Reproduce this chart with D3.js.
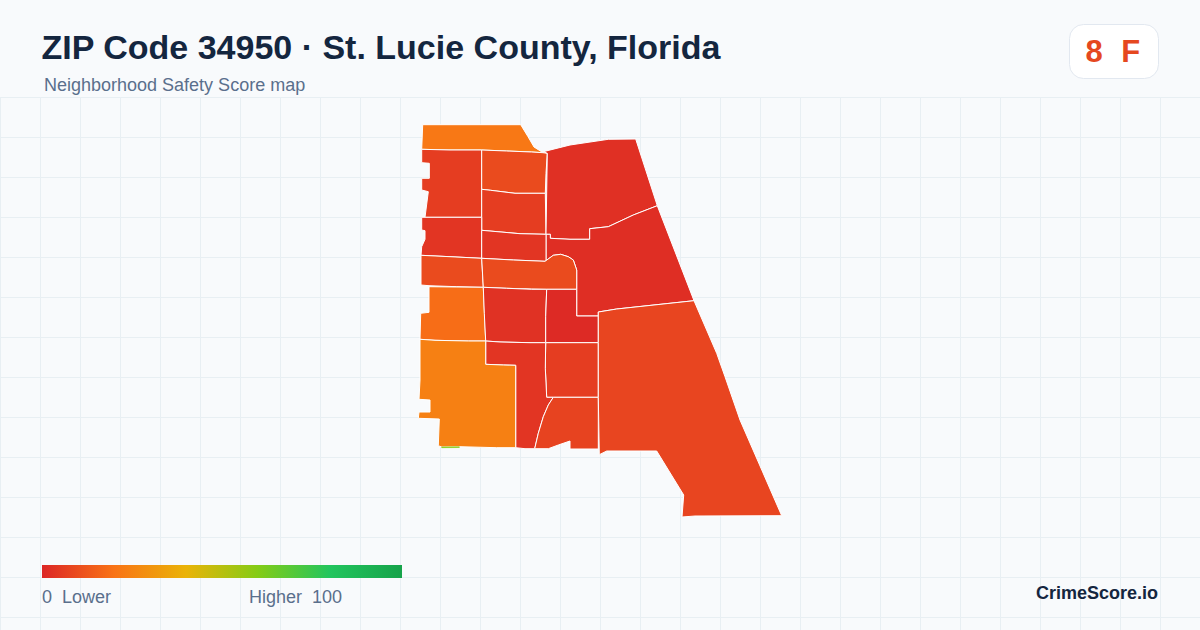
<!DOCTYPE html>
<html>
<head>
<meta charset="utf-8">
<title>ZIP Code 34950</title>
<script src="https://cdn.jsdelivr.net/npm/d3@7"></script>
<style>
	html, body { margin: 0; padding: 0; background: #f8fafc; }
	svg { display: block; }
	text { font-family: "Liberation Sans", Arial, sans-serif; white-space: pre; }
</style>
</head>
<body>
<svg id="myGraph" width="1200" height="630"></svg>
<script>
// map units, x grows east, y grows north
var tractNames = ["north", "west1", "center1", "center2", "northeast", "east", "west2", "center3", "band", "bandMid",
	"west3", "center4", "core", "center5", "lshape", "south", "westBig", "southeast", "sliver"];
var tractScores = [21.5, 6, 9.5, 6, 2.5, 2, 4, 4, 9.5, 9.5, 18.5, 3, 1, 6, 4, 7.5, 24, 8, 60];
var tractOutlines = [
	[[4.7,392.3],[102.7,392.3],[110,380.3],[116,370],[125,364.3],[113.7,365],[88.7,366],[63.7,367],[32,367],[3.7,367.7]],
	[[3.7,367.7],[32,367],[63.7,367],[63.7,327],[63.7,299.7],[7,299.7],[10.3,325.3],[3.7,327],[3.7,338.7],[11.3,338.7],[11.3,353.7],[3.7,354.3]],
	[[63.7,367],[88.7,366],[113.7,365],[125,364.3],[129.3,363.7],[128,343.7],[127.3,323.7],[97,323.7],[72.7,326.7],[63.7,327.7]],
	[[63.7,327.7],[72.7,326.7],[97,323.7],[127.3,323.7],[128,282.7],[102,283.3],[63.7,286.7]],
	[[125.3,365.3],[152,372],[190.3,377.7],[217.7,378],[239.3,311.3],[215.3,302],[190.3,290.3],[171.7,288.3],[171.7,277.7],[152,277.7],[132.3,278.7],[132.3,282.7],[128,282.7],[129.3,363.7]],
	[[239.3,311.3],[276,216.3],[198.7,208],[180.3,205],[180.3,201],[158.7,201],[158.7,227.7],[158.7,247],[155.3,257],[150.3,260.3],[142.7,262.7],[135.3,261.7],[128,256.3],[128,282.7],[132.3,282.7],[132.3,278.7],[152,277.7],[171.7,277.7],[171.7,288.3],[190.3,290.3],[215.3,302]],
	[[7,299.7],[63.7,299.7],[63.7,286.7],[63.7,258.7],[32,260.3],[3,261.7],[3.7,270.3],[7,277.7],[7,286.3],[3.7,287],[3.7,299.7]],
	[[63.7,286.7],[102,283.3],[128,282.7],[128,256.3],[127,255.7],[95.3,257],[63.7,258.7]],
	[[3,261.7],[32,260.3],[63.7,258.7],[65.3,229.7],[38.7,230.3],[11,231.3],[3,232]],
	[[63.7,258.7],[95.3,257],[127,255.7],[135.3,261.7],[142.7,262.7],[150.3,260.3],[155.3,257],[158.7,247],[158.7,227.7],[128.7,227.7],[113.7,228],[88.7,228.7],[65.3,229.7]],
	[[11,230.3],[65.3,229.7],[67.7,176],[50.3,176],[17,176.7],[2,177.7],[2.7,203.7],[11,204.7]],
	[[65.3,229.7],[88.7,228.7],[113.7,227.7],[128.7,227.7],[127.7,200.3],[127.7,174.3],[112,174.3],[82,175],[67.7,176],[66.3,203.7]],
	[[128.7,227.7],[158.7,227.7],[158.7,201],[180.3,201],[180.3,174.3],[127.7,174.3],[127.7,200.3]],
	[[127.7,174.3],[180.3,174.3],[180.3,119.7],[135.3,119.7],[128.7,119.7],[127.3,148.7]],
	[[67.7,176],[82,175],[112,174.3],[127.7,174.3],[127.3,148.7],[128.7,119.7],[135.3,119.7],[130.3,112],[125.3,100.3],[120.3,83.7],[116.7,68.3],[107,68.3],[97.7,69.3],[97.7,151.7],[85.3,152],[67.7,152.7]],
	[[135.3,119.7],[180.3,119.7],[180.3,68],[152,68],[152,76],[140.3,72],[130.3,68.3],[116.7,68.3],[120.3,83.7],[125.3,100.3],[130.3,112]],
	[[2,177.7],[17,176.7],[50.3,176],[67.7,176],[67.7,152.7],[85.3,152],[97.7,151.7],[97.7,69.3],[78.7,69.3],[42,70.3],[23.7,70],[20.3,71.3],[21.3,98],[0.3,98.7],[1,105],[12,105],[12,117],[1,117.7],[2,137]],
	[[276,216.3],[298.7,163.7],[307,140.3],[322,97],[363.7,1.3],[277,1],[264,0],[265.7,22],[238.7,66],[188.7,66],[181.3,62.3],[180.3,119.7],[180.3,174.3],[180.3,201],[180.3,205],[198.7,208]],
	[[23.7,70],[41.3,70.2],[41.3,69.5],[23.7,69.3]]
];
var scoreStops = [0, 20, 40, 60, 80, 100];
var scoreColors = ["#dc2626", "#f97316", "#eab308", "#84cc16", "#22c55e", "#16a34a"];
var legendLabels = ["0  Lower", "Higher  100"];
var titleText = "ZIP Code 34950 · St. Lucie County, Florida";
var subtitleText = "Neighborhood Safety Score map";
var badgeScore = "8";
var badgeGrade = "F";
var brandText = "CrimeScore.io";

window.addEventListener("load", function(){

	var svg = d3.select("#myGraph");

	svg.append("rect")
	.attr("width", 1200)
	.attr("height", 630)
	.attr("fill", "#f8fafc");

	// grid
	var grid = svg.append("g").attr("class", "grid").attr("stroke", "#e8eff3");
	grid.selectAll("line.v")
	.data(d3.range(0, 1200, 40))
	.enter()
	.append("line")
	.attr("class", "v")
	.attr("x1", function(d){ return d + 0.5; })
	.attr("x2", function(d){ return d + 0.5; })
	.attr("y1", 97)
	.attr("y2", 630);
	grid.selectAll("line.h")
	.data(d3.range(97, 630, 40))
	.enter()
	.append("line")
	.attr("class", "h")
	.attr("x1", 0)
	.attr("x2", 1200)
	.attr("y1", function(d){ return d + 0.5; })
	.attr("y2", function(d){ return d + 0.5; });

	// map
	var xScale = d3.scaleLinear().domain([0, 364]).range([418, 782]);
	var yScale = d3.scaleLinear().domain([0, 394]).range([517, 123]);
	var color = d3.scaleLinear().domain(scoreStops).range(scoreColors);
	var line = d3.line()
		.x(function(d){ return xScale(d[0]); })
		.y(function(d){ return yScale(d[1]); });

	svg.append("g")
	.attr("class", "tracts")
	.selectAll("path")
	.data(tractOutlines)
	.enter()
	.append("path")
	.attr("id", function(d, i){ return "tract-" + tractNames[i]; })
	.attr("d", function(d){ return line(d) + "Z"; })
	.attr("fill", function(d, i){ return color(tractScores[i]); })
	.attr("stroke", function(d, i){ return tractScores[i] > 50 ? color(tractScores[i]) : "#ffffff"; })
	.attr("stroke-width", function(d, i){ return tractScores[i] > 50 ? 0.6 : 1; })
	.attr("stroke-linejoin", "round");

	// header
	svg.append("text")
	.attr("x", 41.5)
	.attr("y", 59)
	.attr("font-size", 34)
	.attr("font-weight", "bold")
	.attr("fill", "#14263f")
	.text(titleText);

	svg.append("text")
	.attr("x", 44)
	.attr("y", 91)
	.attr("font-size", 18)
	.attr("fill", "#5a6f8c")
	.text(subtitleText);

	// badge
	svg.append("rect")
	.attr("x", 1069.5)
	.attr("y", 24.5)
	.attr("width", 89)
	.attr("height", 54)
	.attr("rx", 14)
	.attr("fill", "#ffffff")
	.attr("stroke", "#e2e8f0");

	svg.selectAll("text.badge")
	.data([badgeScore, badgeGrade])
	.enter()
	.append("text")
	.attr("class", "badge")
	.attr("x", function(d, i){ return i == 0 ? 1085.5 : 1121.3; })
	.attr("y", 62)
	.attr("font-size", 31)
	.attr("font-weight", "bold")
	.attr("fill", "#e5481f")
	.text(function(d){ return d; });

	// legend
	var gradient = svg.append("defs")
	.append("linearGradient")
	.attr("id", "legendGradient");
	gradient.selectAll("stop")
	.data(scoreStops)
	.enter()
	.append("stop")
	.attr("offset", function(d){ return d + "%"; })
	.attr("stop-color", function(d){ return color(d); });

	svg.append("rect")
	.attr("x", 42)
	.attr("y", 565)
	.attr("width", 360)
	.attr("height", 13)
	.attr("fill", "url(#legendGradient)");

	svg.selectAll("text.legend")
	.data(legendLabels)
	.enter()
	.append("text")
	.attr("class", "legend")
	.attr("x", function(d, i){ return i == 0 ? 42 : 249; })
	.attr("y", 603)
	.attr("font-size", 18)
	.attr("fill", "#5a6f8c")
	.text(function(d){ return d; });

	svg.append("text")
	.attr("x", 1158)
	.attr("y", 599)
	.attr("text-anchor", "end")
	.attr("font-size", 18)
	.attr("font-weight", "bold")
	.attr("fill", "#14263f")
	.text(brandText);
});
</script>
</body>
</html>
